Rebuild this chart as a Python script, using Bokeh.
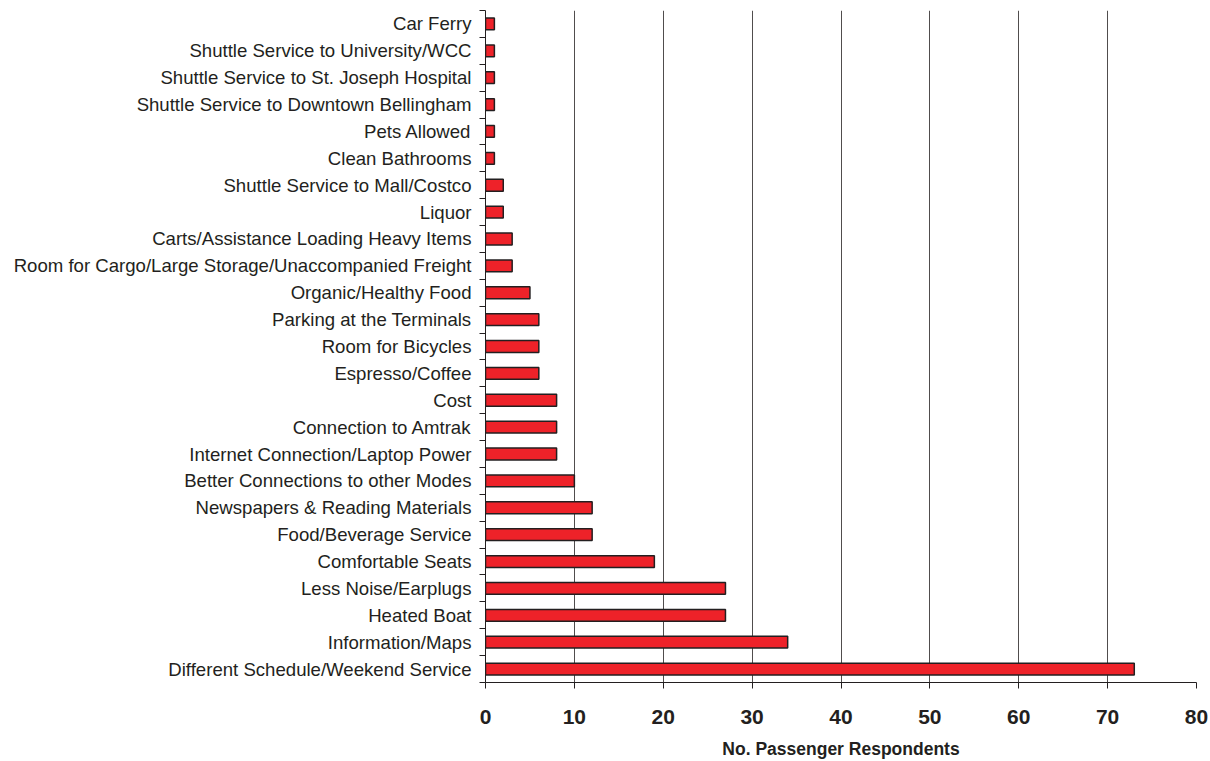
from bokeh.plotting import figure
from bokeh.models import Range1d, FixedTicker
from bokeh.embed import file_html
from bokeh.resources import INLINE

categories = [
    "Car Ferry",
    "Shuttle Service to University/WCC",
    "Shuttle Service to St. Joseph Hospital",
    "Shuttle Service to Downtown Bellingham",
    "Pets Allowed",
    "Clean Bathrooms",
    "Shuttle Service to Mall/Costco",
    "Liquor",
    "Carts/Assistance Loading Heavy Items",
    "Room for Cargo/Large Storage/Unaccompanied Freight",
    "Organic/Healthy Food",
    "Parking at the Terminals",
    "Room for Bicycles",
    "Espresso/Coffee",
    "Cost",
    "Connection to Amtrak",
    "Internet Connection/Laptop Power",
    "Better Connections to other Modes",
    "Newspapers & Reading Materials",
    "Food/Beverage Service",
    "Comfortable Seats",
    "Less Noise/Earplugs",
    "Heated Boat",
    "Information/Maps",
    "Different Schedule/Weekend Service",
]
respondents = [1, 1, 1, 1, 1, 1, 2, 2, 3, 3, 5, 6, 6, 6, 8, 8, 8, 10, 12, 12, 19, 27, 27, 34, 73]
x_ticks = [0, 10, 20, 30, 40, 50, 60, 70, 80]

n = len(categories)
# bottom category at position 0
ypos = [n - 1 - i for i in range(n)]

p = figure(width=1210, height=761, output_backend="svg", toolbar_location=None,
           x_range=Range1d(0, 80), y_range=Range1d(-0.5, n - 0.5),
           min_border_left=485, min_border_right=14, min_border_top=10,
           min_border_bottom=78)
p.outline_line_color = None
p.background_fill_color = "white"
p.border_fill_color = "white"

p.hbar(y=ypos, right=respondents, left=0, height=0.44,
       fill_color="#EE2229", line_color="#231F20", line_width=1.5)

# x axis
xa = p.xaxis[0]
xa.ticker = FixedTicker(ticks=x_ticks, minor_ticks=[])
xa.axis_label = "No. Passenger Respondents"
xa.axis_label_text_font = "Liberation Sans"
xa.axis_label_text_font_style = "bold"
xa.axis_label_text_font_size = "17.5px"
xa.axis_label_text_color = "#231F20"
xa.axis_label_standoff = 12
xa.major_label_text_font = "Liberation Sans"
xa.major_label_text_font_style = "bold"
xa.major_label_text_font_size = "21px"
xa.major_label_text_color = "#231F20"
xa.major_label_standoff = 21
xa.major_tick_out = 6
xa.major_tick_in = 0
xa.axis_line_color = "#231F20"
xa.major_tick_line_color = "#231F20"

# y axis
ya = p.yaxis[0]
ya.ticker = FixedTicker(ticks=ypos, minor_ticks=[k - 0.5 for k in range(n + 1)])
ya.major_label_overrides = {ypos[i]: categories[i] for i in range(n)}
ya.major_label_text_font = "Liberation Sans"
ya.major_label_text_font_size = "18.6px"
ya.major_label_text_color = "#231F20"
ya.major_label_standoff = 8
ya.major_tick_out = 0
ya.major_tick_in = 0
ya.minor_tick_out = 6
ya.minor_tick_in = 0
ya.minor_tick_line_color = "#231F20"
ya.axis_line_color = "#231F20"

p.xgrid.grid_line_color = "#231F20"
p.xgrid.grid_line_width = 0.8
p.ygrid.grid_line_color = None

open("out.html", "w").write(file_html(p, INLINE))
